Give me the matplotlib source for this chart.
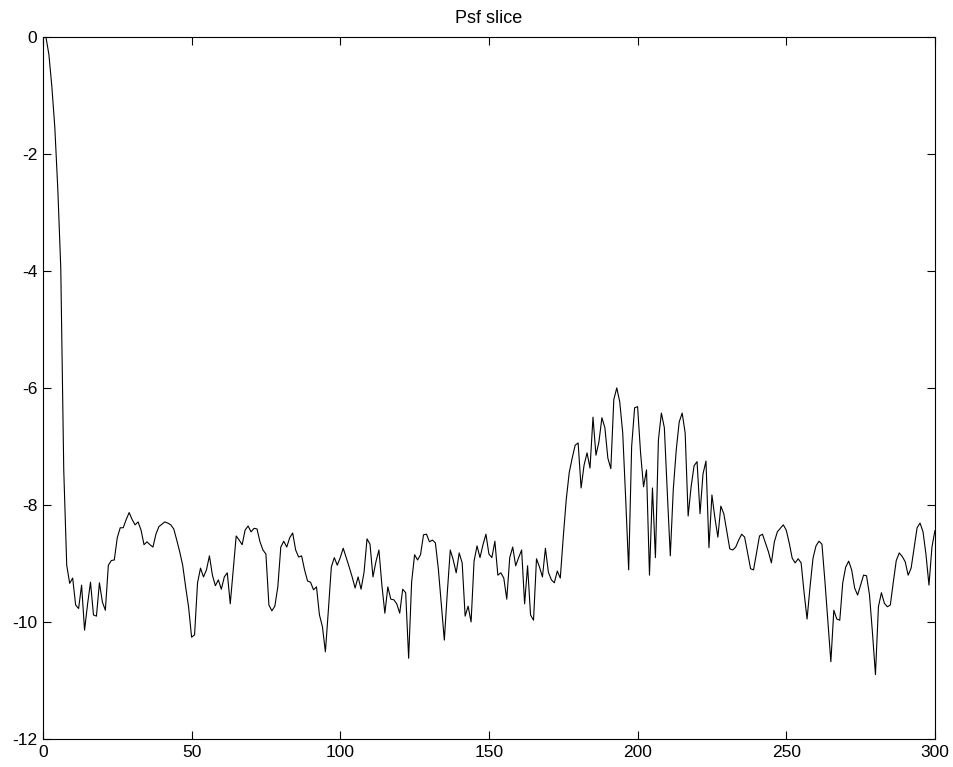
import matplotlib
matplotlib.use("Agg")
import matplotlib.pyplot as plt

plt.rcParams['font.family'] = ['Liberation Sans', 'DejaVu Sans']
plt.rcParams['axes.unicode_minus'] = False

# psf slice values, sample 1..300 (log scale)
psf_start = [0, -0.3, -0.85, -1.55, -2.6, -3.95, -7.4, -9.03, -9.34, -9.25,
             -9.71, -9.77, -9.37, -10.14, -9.7, -9.32, -9.88, -9.9, -9.33, -9.66,
             -9.8, -9.03, -8.95, -8.94, -8.56, -8.39, -8.39, -8.25, -8.13, -8.25,
             -8.34, -8.29, -8.43, -8.68, -8.63, -8.68, -8.72, -8.5, -8.37, -8.33,
             -8.29, -8.31, -8.34, -8.41, -8.6, -8.8, -9.03, -9.4, -9.75, -10.26]
psf_51_100 = [-10.22, -9.33, -9.08, -9.23, -9.11, -8.87, -9.2, -9.38, -9.28, -9.44,
              -9.23, -9.16, -9.69, -9.1, -8.53, -8.6, -8.68, -8.43, -8.36, -8.46,
              -8.4, -8.41, -8.63, -8.77, -8.84, -9.71, -9.81, -9.73, -9.4, -8.72,
              -8.62, -8.72, -8.56, -8.48, -8.77, -8.89, -8.87, -9.11, -9.3, -9.32,
              -9.45, -9.4, -9.88, -10.08, -10.51, -9.8, -9.06, -8.9, -9.03, -8.9]
psf_101_150 = [-8.74, -8.9, -9.06, -9.23, -9.42, -9.23, -9.44, -9.15, -8.58, -8.67,
               -9.23, -8.97, -8.77, -9.37, -9.85, -9.4, -9.61, -9.62, -9.69, -9.85,
               -9.44, -9.5, -10.62, -9.32, -8.85, -8.94, -8.85, -8.51, -8.5, -8.63,
               -8.6, -8.65, -9.1, -9.7, -10.31, -9.5, -8.77, -8.94, -9.16, -8.82,
               -8.99, -9.9, -9.73, -10.0, -8.96, -8.7, -8.9, -8.68, -8.5, -8.84]
psf_151_200 = [-8.9, -8.62, -9.2, -9.16, -9.25, -9.61, -8.9, -8.72, -9.04, -8.9,
               -8.77, -9.69, -9.04, -9.88, -9.97, -8.92, -9.06, -9.23, -8.74, -9.15,
               -9.28, -9.33, -9.13, -9.25, -8.55, -7.91, -7.45, -7.2, -6.98, -6.94,
               -7.71, -7.32, -7.11, -7.37, -6.5, -7.15, -6.92, -6.51, -6.68, -7.2,
               -7.38, -6.2, -6.0, -6.24, -6.77, -7.9, -9.11, -7.0, -6.34, -6.32]
psf_201_250 = [-7.11, -7.69, -7.4, -9.2, -7.71, -8.9, -6.89, -6.43, -6.68, -7.8,
               -8.87, -7.74, -7.06, -6.58, -6.43, -6.77, -8.19, -7.69, -7.33, -7.26,
               -8.15, -7.47, -7.25, -8.73, -7.83, -8.22, -8.55, -8.02, -8.15, -8.45,
               -8.75, -8.77, -8.72, -8.6, -8.5, -8.55, -8.82, -9.09, -9.11, -8.82,
               -8.53, -8.5, -8.65, -8.8, -8.99, -8.63, -8.46, -8.4, -8.34, -8.43]
psf_251_300 = [-8.65, -8.91, -8.99, -8.92, -8.99, -9.5, -9.95, -9.4, -8.91, -8.7,
               -8.62, -8.67, -9.3, -10.0, -10.68, -9.8, -9.95, -9.97, -9.33, -9.06,
               -8.96, -9.11, -9.42, -9.54, -9.37, -9.2, -9.21, -9.54, -10.19, -10.9,
               -9.74, -9.5, -9.68, -9.74, -9.71, -9.32, -8.95, -8.82, -8.88, -8.97,
               -9.2, -9.08, -8.74, -8.39, -8.31, -8.46, -8.85, -9.37, -8.72, -8.44]

psf = psf_start + psf_51_100 + psf_101_150 + psf_151_200 + psf_201_250 + psf_251_300
samples = list(range(1, len(psf) + 1))

x_ticks = [0, 50, 100, 150, 200, 250, 300]
y_ticks = [-12, -10, -8, -6, -4, -2, 0]

fig = plt.figure(figsize=(9.54, 7.67), dpi=100)
ax = fig.add_axes([0.045, 0.0365, 0.935, 0.9155])
ax.plot(samples, psf, color='black', linewidth=0.8)

ax.set_xlim(0, 300)
ax.set_ylim(-12, 0)
ax.set_xticks(x_ticks)
ax.set_yticks(y_ticks)
ax.tick_params(direction='in', top=True, right=True, length=6, width=0.8,
               labelsize=12.5, pad=4)
for s in ax.spines.values():
    s.set_linewidth(0.8)
ax.set_title('Psf slice', fontsize=13, pad=10)

fig.savefig('out.png', dpi=100, facecolor='white')
